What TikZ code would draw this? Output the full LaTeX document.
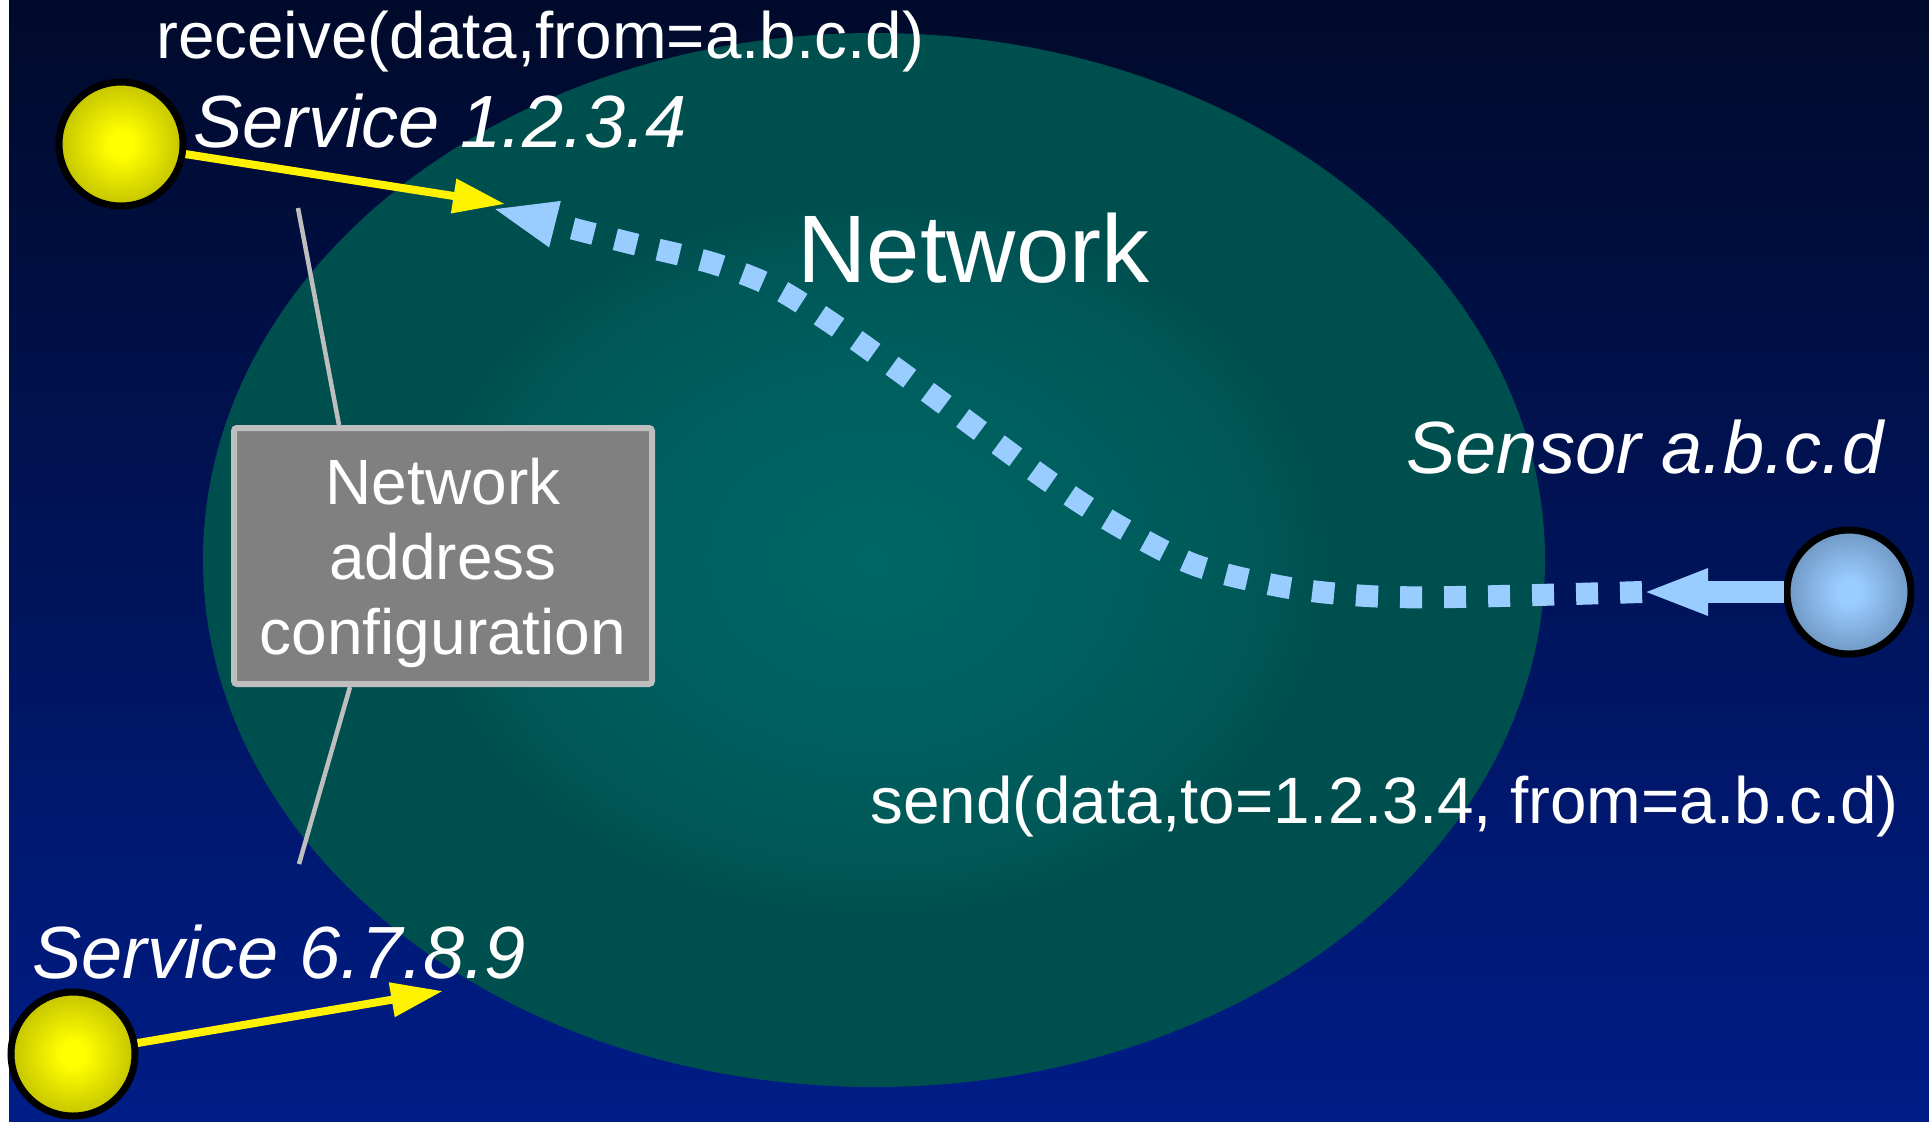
\documentclass[tikz,border=0pt]{standalone}
\usepackage{fontspec}
\setmainfont{Liberation Sans}
\usetikzlibrary{arrows.meta}

\definecolor{skytop}{HTML}{000A2A}
\definecolor{skybot}{HTML}{001D88}
\definecolor{netedge}{HTML}{004F4F}
\definecolor{netmid}{HTML}{005858}
\definecolor{netring}{HTML}{005F5F}
\definecolor{netcore}{HTML}{006666}
\definecolor{msgblue}{HTML}{99CCFF}
\definecolor{boxgray}{HTML}{808080}
\definecolor{rimgray}{HTML}{BEBEBE}
\definecolor{sunhi}{HTML}{FFFF00}
\definecolor{sunlo}{HTML}{C4C400}
\definecolor{dothi}{HTML}{99CCFF}
\definecolor{dotlo}{HTML}{7098C4}

\pgfdeclareradialshading{netglow}{\pgfpoint{0bp}{0bp}}{color(0bp)=(netcore); color(8bp)=(netring); color(14bp)=(netmid); color(17bp)=(netedge); color(50bp)=(netedge)}
\pgfdeclareradialshading{yellowball}{\pgfpoint{0bp}{0bp}}{color(0bp)=(sunhi); color(5bp)=(sunhi); color(25bp)=(sunlo); color(50bp)=(sunlo)}
\pgfdeclareradialshading{blueball}{\pgfpoint{0bp}{0bp}}{color(0bp)=(dothi); color(5bp)=(dothi); color(25bp)=(dotlo); color(50bp)=(dotlo)}

\tikzset{
  host/.style={circle, draw=black, line width=3.5pt, minimum size=62pt, inner sep=0pt},
  lbl/.style={text=white, inner sep=0pt, anchor=base west},
  callfont/.style={font=\fontsize{32.8}{39}\selectfont},
  namefont/.style={font=\fontsize{37}{44}\selectfont\itshape},
  yarrow/.style={draw=yellow, line width=4pt, -{Triangle[length=26pt,width=16.5pt]}},
  msg/.style={draw=msgblue, line width=11pt, -{Triangle[length=33pt,width=21pt]}},
  cfgline/.style={draw=rimgray, line width=2.25pt}
}

\begin{document}
\begin{tikzpicture}[x=0.5pt, y=-0.5pt]
    \useasboundingbox (0,0) rectangle (1929,1121);
    % backdrop
    \fill[white] (0,0) rectangle (9,1121);
    \fill[top color=skytop, bottom color=skybot] (9,0) rectangle (1929,1121);
    \shade[shading=netglow] (874,560) ellipse [x radius=671, y radius=527];

    % address box and its leads
    \node [fill=boxgray, draw=rimgray, line width=3pt, rounded corners=1.5pt,
           minimum width=209pt, minimum height=128pt, text=white, align=center,
           text depth=0pt, font=\fontsize{32}{37.5}\selectfont] (nac) at (443,556)
           {Network\\address\\configuration};
    \coordinate (cfgA) at (298,208);
    \coordinate (cfgB) at (299,864);
    \draw [cfgline] (cfgA) -- ([xshift=54pt]nac.north west);
    \draw [cfgline] ([xshift=59.5pt]nac.south west) -- (cfgB);

    % hosts
    \node [host, shading=yellowball] (srv1) at (121,144) {};
    \node [host, shading=yellowball] (srv2) at (73,1054) {};
    \node [host, shading=blueball] (sensor) at (1849,592) {};

    \coordinate (rx1) at (505,204);
    \coordinate (rx2) at (443,991);
    \coordinate (rx3) at (491,208);
    \coordinate (sTip) at (1642,592);

    % message path
    \draw [msg, dash pattern=on 11pt off 11pt] plot [smooth] coordinates {(sTip) (1455,597) (1367,596) (1284,587) (1195,565) (1117,525) (1043,477) (902,373) (830,322) (774,287) (712,263) (626,242) (rx3)};
    \draw [msg] (sensor) -- (sTip);
    \draw [yarrow] (srv1) -- (rx1);
    \draw [yarrow] (srv2) -- (rx2);

    % labels
    \node [lbl, callfont] (rcv) at (156,58) {receive(data,from=a.b.c.d)};
    \node [lbl, namefont] (srv1lbl) at (193,147) {Service 1.2.3.4};
    \node [lbl, font=\fontsize{48}{56}\selectfont] (netlbl) at (797,282) {Network};
    \node [lbl, namefont] (sensorlbl) at (1406,473) {Sensor a.b.c.d};
    \node [lbl, callfont] (snd) at (870,823) {send(data,to=1.2.3.4, from=a.b.c.d)};
    \node [lbl, namefont] (srv2lbl) at (32,978) {Service 6.7.8.9};
\end{tikzpicture}
\end{document}
